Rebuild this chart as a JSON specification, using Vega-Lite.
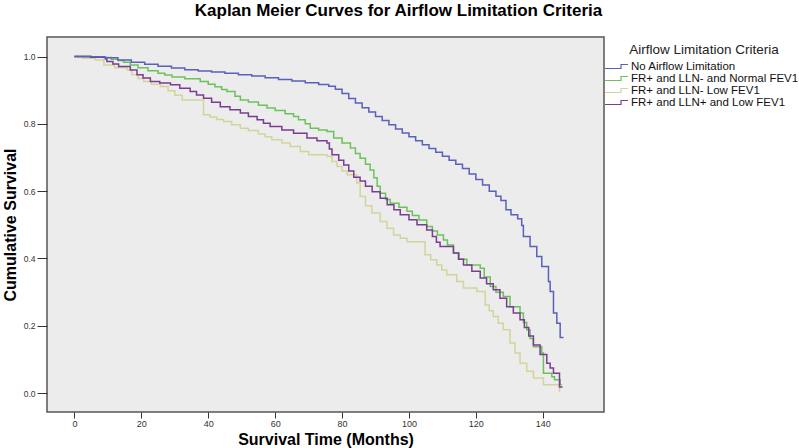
{
  "$schema": "https://vega.github.io/schema/vega-lite/v6.json",
  "width": 557,
  "height": 375,
  "autosize": {"type": "none"},
  "padding": {"left": 47, "top": 37, "right": 195, "bottom": 36},
  "background": "white",
  "title": {"text": "Kaplan Meier Curves for Airflow Limitation Criteria", "fontSize": 17, "fontWeight": "bold", "font": "Liberation Sans", "color": "black", "anchor": "middle", "frame": "group", "dx": 73, "offset": 17},
  "config": {
    "view": {"stroke": "#555555", "strokeWidth": 1.5, "fill": "#ececec"},
    "font": "Liberation Sans"
  },
  "datasets": {
    "km": [
      {"g": "FR+ and LLN- Low FEV1", "t": 0, "s": 1.0},
      {"g": "FR+ and LLN- Low FEV1", "t": 2.3, "s": 0.995},
      {"g": "FR+ and LLN- Low FEV1", "t": 6.3, "s": 0.99},
      {"g": "FR+ and LLN- Low FEV1", "t": 8.8, "s": 0.975},
      {"g": "FR+ and LLN- Low FEV1", "t": 12, "s": 0.967},
      {"g": "FR+ and LLN- Low FEV1", "t": 15.7, "s": 0.96},
      {"g": "FR+ and LLN- Low FEV1", "t": 17.2, "s": 0.946},
      {"g": "FR+ and LLN- Low FEV1", "t": 19, "s": 0.935},
      {"g": "FR+ and LLN- Low FEV1", "t": 20.7, "s": 0.926},
      {"g": "FR+ and LLN- Low FEV1", "t": 23, "s": 0.918},
      {"g": "FR+ and LLN- Low FEV1", "t": 25.7, "s": 0.911},
      {"g": "FR+ and LLN- Low FEV1", "t": 28, "s": 0.898},
      {"g": "FR+ and LLN- Low FEV1", "t": 30, "s": 0.885},
      {"g": "FR+ and LLN- Low FEV1", "t": 32.2, "s": 0.871},
      {"g": "FR+ and LLN- Low FEV1", "t": 38.6, "s": 0.827},
      {"g": "FR+ and LLN- Low FEV1", "t": 40.5, "s": 0.82},
      {"g": "FR+ and LLN- Low FEV1", "t": 42.5, "s": 0.813},
      {"g": "FR+ and LLN- Low FEV1", "t": 44.6, "s": 0.807},
      {"g": "FR+ and LLN- Low FEV1", "t": 47, "s": 0.797},
      {"g": "FR+ and LLN- Low FEV1", "t": 49.6, "s": 0.787},
      {"g": "FR+ and LLN- Low FEV1", "t": 52, "s": 0.78},
      {"g": "FR+ and LLN- Low FEV1", "t": 55, "s": 0.77},
      {"g": "FR+ and LLN- Low FEV1", "t": 57, "s": 0.762},
      {"g": "FR+ and LLN- Low FEV1", "t": 59, "s": 0.753},
      {"g": "FR+ and LLN- Low FEV1", "t": 62, "s": 0.743},
      {"g": "FR+ and LLN- Low FEV1", "t": 64.5, "s": 0.733},
      {"g": "FR+ and LLN- Low FEV1", "t": 67.5, "s": 0.718},
      {"g": "FR+ and LLN- Low FEV1", "t": 70, "s": 0.708},
      {"g": "FR+ and LLN- Low FEV1", "t": 75.5, "s": 0.703},
      {"g": "FR+ and LLN- Low FEV1", "t": 77, "s": 0.688},
      {"g": "FR+ and LLN- Low FEV1", "t": 78.5, "s": 0.673},
      {"g": "FR+ and LLN- Low FEV1", "t": 80, "s": 0.66},
      {"g": "FR+ and LLN- Low FEV1", "t": 81.5, "s": 0.649},
      {"g": "FR+ and LLN- Low FEV1", "t": 84.4, "s": 0.624},
      {"g": "FR+ and LLN- Low FEV1", "t": 85.4, "s": 0.584},
      {"g": "FR+ and LLN- Low FEV1", "t": 87, "s": 0.557},
      {"g": "FR+ and LLN- Low FEV1", "t": 88.9, "s": 0.535},
      {"g": "FR+ and LLN- Low FEV1", "t": 91.4, "s": 0.51},
      {"g": "FR+ and LLN- Low FEV1", "t": 93.4, "s": 0.49},
      {"g": "FR+ and LLN- Low FEV1", "t": 95.4, "s": 0.47},
      {"g": "FR+ and LLN- Low FEV1", "t": 97.4, "s": 0.46},
      {"g": "FR+ and LLN- Low FEV1", "t": 99.4, "s": 0.45},
      {"g": "FR+ and LLN- Low FEV1", "t": 104.8, "s": 0.411},
      {"g": "FR+ and LLN- Low FEV1", "t": 106.5, "s": 0.396},
      {"g": "FR+ and LLN- Low FEV1", "t": 108.3, "s": 0.381},
      {"g": "FR+ and LLN- Low FEV1", "t": 109.8, "s": 0.366},
      {"g": "FR+ and LLN- Low FEV1", "t": 111.3, "s": 0.352},
      {"g": "FR+ and LLN- Low FEV1", "t": 114.3, "s": 0.332},
      {"g": "FR+ and LLN- Low FEV1", "t": 116.3, "s": 0.312},
      {"g": "FR+ and LLN- Low FEV1", "t": 120.3, "s": 0.302},
      {"g": "FR+ and LLN- Low FEV1", "t": 122.8, "s": 0.262},
      {"g": "FR+ and LLN- Low FEV1", "t": 124, "s": 0.245},
      {"g": "FR+ and LLN- Low FEV1", "t": 125.2, "s": 0.228},
      {"g": "FR+ and LLN- Low FEV1", "t": 126.7, "s": 0.208},
      {"g": "FR+ and LLN- Low FEV1", "t": 128.2, "s": 0.188},
      {"g": "FR+ and LLN- Low FEV1", "t": 130.2, "s": 0.149},
      {"g": "FR+ and LLN- Low FEV1", "t": 131.7, "s": 0.119},
      {"g": "FR+ and LLN- Low FEV1", "t": 133.2, "s": 0.089},
      {"g": "FR+ and LLN- Low FEV1", "t": 135.2, "s": 0.065},
      {"g": "FR+ and LLN- Low FEV1", "t": 137.2, "s": 0.045},
      {"g": "FR+ and LLN- Low FEV1", "t": 140.2, "s": 0.025},
      {"g": "FR+ and LLN- Low FEV1", "t": 145, "s": 0.003},

      {"g": "FR+ and LLN- and Normal FEV1", "t": 0, "s": 1.0},
      {"g": "FR+ and LLN- and Normal FEV1", "t": 5, "s": 0.999},
      {"g": "FR+ and LLN- and Normal FEV1", "t": 8.8, "s": 0.997},
      {"g": "FR+ and LLN- and Normal FEV1", "t": 11, "s": 0.992},
      {"g": "FR+ and LLN- and Normal FEV1", "t": 13, "s": 0.988},
      {"g": "FR+ and LLN- and Normal FEV1", "t": 14.7, "s": 0.983},
      {"g": "FR+ and LLN- and Normal FEV1", "t": 16.7, "s": 0.975},
      {"g": "FR+ and LLN- and Normal FEV1", "t": 19, "s": 0.967},
      {"g": "FR+ and LLN- and Normal FEV1", "t": 22, "s": 0.958},
      {"g": "FR+ and LLN- and Normal FEV1", "t": 25, "s": 0.95},
      {"g": "FR+ and LLN- and Normal FEV1", "t": 27, "s": 0.945},
      {"g": "FR+ and LLN- and Normal FEV1", "t": 29.2, "s": 0.939},
      {"g": "FR+ and LLN- and Normal FEV1", "t": 33, "s": 0.934},
      {"g": "FR+ and LLN- and Normal FEV1", "t": 37.6, "s": 0.926},
      {"g": "FR+ and LLN- and Normal FEV1", "t": 40, "s": 0.918},
      {"g": "FR+ and LLN- and Normal FEV1", "t": 42, "s": 0.91},
      {"g": "FR+ and LLN- and Normal FEV1", "t": 44, "s": 0.902},
      {"g": "FR+ and LLN- and Normal FEV1", "t": 45.6, "s": 0.896},
      {"g": "FR+ and LLN- and Normal FEV1", "t": 48, "s": 0.882},
      {"g": "FR+ and LLN- and Normal FEV1", "t": 49.6, "s": 0.871},
      {"g": "FR+ and LLN- and Normal FEV1", "t": 52, "s": 0.865},
      {"g": "FR+ and LLN- and Normal FEV1", "t": 55, "s": 0.855},
      {"g": "FR+ and LLN- and Normal FEV1", "t": 57.6, "s": 0.847},
      {"g": "FR+ and LLN- and Normal FEV1", "t": 60, "s": 0.84},
      {"g": "FR+ and LLN- and Normal FEV1", "t": 63, "s": 0.83},
      {"g": "FR+ and LLN- and Normal FEV1", "t": 65.5, "s": 0.822},
      {"g": "FR+ and LLN- and Normal FEV1", "t": 67, "s": 0.812},
      {"g": "FR+ and LLN- and Normal FEV1", "t": 69, "s": 0.8},
      {"g": "FR+ and LLN- and Normal FEV1", "t": 70.5, "s": 0.787},
      {"g": "FR+ and LLN- and Normal FEV1", "t": 73, "s": 0.782},
      {"g": "FR+ and LLN- and Normal FEV1", "t": 75.5, "s": 0.777},
      {"g": "FR+ and LLN- and Normal FEV1", "t": 77.5, "s": 0.758},
      {"g": "FR+ and LLN- and Normal FEV1", "t": 80, "s": 0.743},
      {"g": "FR+ and LLN- and Normal FEV1", "t": 82.5, "s": 0.728},
      {"g": "FR+ and LLN- and Normal FEV1", "t": 84, "s": 0.712},
      {"g": "FR+ and LLN- and Normal FEV1", "t": 85.4, "s": 0.698},
      {"g": "FR+ and LLN- and Normal FEV1", "t": 87, "s": 0.68},
      {"g": "FR+ and LLN- and Normal FEV1", "t": 88.4, "s": 0.663},
      {"g": "FR+ and LLN- and Normal FEV1", "t": 89.5, "s": 0.64},
      {"g": "FR+ and LLN- and Normal FEV1", "t": 90.5, "s": 0.615},
      {"g": "FR+ and LLN- and Normal FEV1", "t": 91.4, "s": 0.594},
      {"g": "FR+ and LLN- and Normal FEV1", "t": 93, "s": 0.575},
      {"g": "FR+ and LLN- and Normal FEV1", "t": 94.4, "s": 0.564},
      {"g": "FR+ and LLN- and Normal FEV1", "t": 97, "s": 0.552},
      {"g": "FR+ and LLN- and Normal FEV1", "t": 99.4, "s": 0.54},
      {"g": "FR+ and LLN- and Normal FEV1", "t": 101, "s": 0.528},
      {"g": "FR+ and LLN- and Normal FEV1", "t": 103, "s": 0.514},
      {"g": "FR+ and LLN- and Normal FEV1", "t": 105.3, "s": 0.495},
      {"g": "FR+ and LLN- and Normal FEV1", "t": 107, "s": 0.482},
      {"g": "FR+ and LLN- and Normal FEV1", "t": 108.5, "s": 0.47},
      {"g": "FR+ and LLN- and Normal FEV1", "t": 110.3, "s": 0.455},
      {"g": "FR+ and LLN- and Normal FEV1", "t": 111.5, "s": 0.44},
      {"g": "FR+ and LLN- and Normal FEV1", "t": 113.3, "s": 0.416},
      {"g": "FR+ and LLN- and Normal FEV1", "t": 115, "s": 0.398},
      {"g": "FR+ and LLN- and Normal FEV1", "t": 117.3, "s": 0.381},
      {"g": "FR+ and LLN- and Normal FEV1", "t": 121.3, "s": 0.371},
      {"g": "FR+ and LLN- and Normal FEV1", "t": 122.5, "s": 0.345},
      {"g": "FR+ and LLN- and Normal FEV1", "t": 124.3, "s": 0.317},
      {"g": "FR+ and LLN- and Normal FEV1", "t": 126, "s": 0.3},
      {"g": "FR+ and LLN- and Normal FEV1", "t": 128.2, "s": 0.287},
      {"g": "FR+ and LLN- and Normal FEV1", "t": 130.2, "s": 0.257},
      {"g": "FR+ and LLN- and Normal FEV1", "t": 133.2, "s": 0.238},
      {"g": "FR+ and LLN- and Normal FEV1", "t": 134.2, "s": 0.21},
      {"g": "FR+ and LLN- and Normal FEV1", "t": 135.2, "s": 0.188},
      {"g": "FR+ and LLN- and Normal FEV1", "t": 136.2, "s": 0.162},
      {"g": "FR+ and LLN- and Normal FEV1", "t": 137.2, "s": 0.138},
      {"g": "FR+ and LLN- and Normal FEV1", "t": 139.7, "s": 0.119},
      {"g": "FR+ and LLN- and Normal FEV1", "t": 140.2, "s": 0.059},
      {"g": "FR+ and LLN- and Normal FEV1", "t": 142.7, "s": 0.049},
      {"g": "FR+ and LLN- and Normal FEV1", "t": 143.5, "s": 0.04},
      {"g": "FR+ and LLN- and Normal FEV1", "t": 145.2, "s": 0.025},
      {"g": "FR+ and LLN- and Normal FEV1", "t": 145.7, "s": 0.025},

      {"g": "FR+ and LLN+ and Low FEV1", "t": 0, "s": 1.0},
      {"g": "FR+ and LLN+ and Low FEV1", "t": 4.8, "s": 0.998},
      {"g": "FR+ and LLN+ and Low FEV1", "t": 9.3, "s": 0.993},
      {"g": "FR+ and LLN+ and Low FEV1", "t": 9.7, "s": 0.985},
      {"g": "FR+ and LLN+ and Low FEV1", "t": 11.5, "s": 0.978},
      {"g": "FR+ and LLN+ and Low FEV1", "t": 13.2, "s": 0.97},
      {"g": "FR+ and LLN+ and Low FEV1", "t": 16.7, "s": 0.96},
      {"g": "FR+ and LLN+ and Low FEV1", "t": 18.7, "s": 0.946},
      {"g": "FR+ and LLN+ and Low FEV1", "t": 20.5, "s": 0.936},
      {"g": "FR+ and LLN+ and Low FEV1", "t": 22.7, "s": 0.926},
      {"g": "FR+ and LLN+ and Low FEV1", "t": 25.5, "s": 0.921},
      {"g": "FR+ and LLN+ and Low FEV1", "t": 28.7, "s": 0.916},
      {"g": "FR+ and LLN+ and Low FEV1", "t": 31.5, "s": 0.906},
      {"g": "FR+ and LLN+ and Low FEV1", "t": 34.6, "s": 0.896},
      {"g": "FR+ and LLN+ and Low FEV1", "t": 36.5, "s": 0.886},
      {"g": "FR+ and LLN+ and Low FEV1", "t": 38.6, "s": 0.876},
      {"g": "FR+ and LLN+ and Low FEV1", "t": 41, "s": 0.864},
      {"g": "FR+ and LLN+ and Low FEV1", "t": 43.6, "s": 0.851},
      {"g": "FR+ and LLN+ and Low FEV1", "t": 46.5, "s": 0.842},
      {"g": "FR+ and LLN+ and Low FEV1", "t": 49.6, "s": 0.832},
      {"g": "FR+ and LLN+ and Low FEV1", "t": 52, "s": 0.822},
      {"g": "FR+ and LLN+ and Low FEV1", "t": 54.6, "s": 0.812},
      {"g": "FR+ and LLN+ and Low FEV1", "t": 56.5, "s": 0.802},
      {"g": "FR+ and LLN+ and Low FEV1", "t": 58.5, "s": 0.792},
      {"g": "FR+ and LLN+ and Low FEV1", "t": 62, "s": 0.782},
      {"g": "FR+ and LLN+ and Low FEV1", "t": 65.5, "s": 0.772},
      {"g": "FR+ and LLN+ and Low FEV1", "t": 69.5, "s": 0.758},
      {"g": "FR+ and LLN+ and Low FEV1", "t": 72.5, "s": 0.75},
      {"g": "FR+ and LLN+ and Low FEV1", "t": 75.5, "s": 0.743},
      {"g": "FR+ and LLN+ and Low FEV1", "t": 76.2, "s": 0.725},
      {"g": "FR+ and LLN+ and Low FEV1", "t": 77, "s": 0.708},
      {"g": "FR+ and LLN+ and Low FEV1", "t": 79, "s": 0.692},
      {"g": "FR+ and LLN+ and Low FEV1", "t": 80.5, "s": 0.678},
      {"g": "FR+ and LLN+ and Low FEV1", "t": 82, "s": 0.66},
      {"g": "FR+ and LLN+ and Low FEV1", "t": 83.5, "s": 0.641},
      {"g": "FR+ and LLN+ and Low FEV1", "t": 85.4, "s": 0.63},
      {"g": "FR+ and LLN+ and Low FEV1", "t": 87, "s": 0.615},
      {"g": "FR+ and LLN+ and Low FEV1", "t": 89, "s": 0.598},
      {"g": "FR+ and LLN+ and Low FEV1", "t": 91.4, "s": 0.579},
      {"g": "FR+ and LLN+ and Low FEV1", "t": 93.5, "s": 0.56},
      {"g": "FR+ and LLN+ and Low FEV1", "t": 95.5, "s": 0.545},
      {"g": "FR+ and LLN+ and Low FEV1", "t": 97.4, "s": 0.53},
      {"g": "FR+ and LLN+ and Low FEV1", "t": 100, "s": 0.515},
      {"g": "FR+ and LLN+ and Low FEV1", "t": 102.4, "s": 0.5},
      {"g": "FR+ and LLN+ and Low FEV1", "t": 105.3, "s": 0.485},
      {"g": "FR+ and LLN+ and Low FEV1", "t": 107, "s": 0.465},
      {"g": "FR+ and LLN+ and Low FEV1", "t": 108.2, "s": 0.448},
      {"g": "FR+ and LLN+ and Low FEV1", "t": 109.3, "s": 0.436},
      {"g": "FR+ and LLN+ and Low FEV1", "t": 113.3, "s": 0.416},
      {"g": "FR+ and LLN+ and Low FEV1", "t": 114.8, "s": 0.398},
      {"g": "FR+ and LLN+ and Low FEV1", "t": 116.3, "s": 0.381},
      {"g": "FR+ and LLN+ and Low FEV1", "t": 118.8, "s": 0.362},
      {"g": "FR+ and LLN+ and Low FEV1", "t": 121.3, "s": 0.342},
      {"g": "FR+ and LLN+ and Low FEV1", "t": 123.2, "s": 0.325},
      {"g": "FR+ and LLN+ and Low FEV1", "t": 125.2, "s": 0.307},
      {"g": "FR+ and LLN+ and Low FEV1", "t": 127.2, "s": 0.282},
      {"g": "FR+ and LLN+ and Low FEV1", "t": 129.2, "s": 0.257},
      {"g": "FR+ and LLN+ and Low FEV1", "t": 131.2, "s": 0.238},
      {"g": "FR+ and LLN+ and Low FEV1", "t": 133.2, "s": 0.218},
      {"g": "FR+ and LLN+ and Low FEV1", "t": 134.5, "s": 0.195},
      {"g": "FR+ and LLN+ and Low FEV1", "t": 135.8, "s": 0.17},
      {"g": "FR+ and LLN+ and Low FEV1", "t": 137.2, "s": 0.143},
      {"g": "FR+ and LLN+ and Low FEV1", "t": 139.2, "s": 0.115},
      {"g": "FR+ and LLN+ and Low FEV1", "t": 141.2, "s": 0.089},
      {"g": "FR+ and LLN+ and Low FEV1", "t": 142.2, "s": 0.075},
      {"g": "FR+ and LLN+ and Low FEV1", "t": 143.2, "s": 0.059},
      {"g": "FR+ and LLN+ and Low FEV1", "t": 145, "s": 0.018},
      {"g": "FR+ and LLN+ and Low FEV1", "t": 145.9, "s": 0.018},

      {"g": "No Airflow Limitation", "t": 0, "s": 1.0},
      {"g": "No Airflow Limitation", "t": 5, "s": 0.999},
      {"g": "No Airflow Limitation", "t": 9, "s": 0.996},
      {"g": "No Airflow Limitation", "t": 13, "s": 0.99},
      {"g": "No Airflow Limitation", "t": 17, "s": 0.983},
      {"g": "No Airflow Limitation", "t": 21, "s": 0.977},
      {"g": "No Airflow Limitation", "t": 25, "s": 0.971},
      {"g": "No Airflow Limitation", "t": 29, "s": 0.966},
      {"g": "No Airflow Limitation", "t": 33, "s": 0.961},
      {"g": "No Airflow Limitation", "t": 37, "s": 0.957},
      {"g": "No Airflow Limitation", "t": 41, "s": 0.954},
      {"g": "No Airflow Limitation", "t": 45, "s": 0.95},
      {"g": "No Airflow Limitation", "t": 49, "s": 0.946},
      {"g": "No Airflow Limitation", "t": 53, "s": 0.942},
      {"g": "No Airflow Limitation", "t": 57, "s": 0.937},
      {"g": "No Airflow Limitation", "t": 61, "s": 0.932},
      {"g": "No Airflow Limitation", "t": 65, "s": 0.927},
      {"g": "No Airflow Limitation", "t": 69, "s": 0.922},
      {"g": "No Airflow Limitation", "t": 73, "s": 0.917},
      {"g": "No Airflow Limitation", "t": 76, "s": 0.912},
      {"g": "No Airflow Limitation", "t": 78, "s": 0.903},
      {"g": "No Airflow Limitation", "t": 80, "s": 0.89},
      {"g": "No Airflow Limitation", "t": 82, "s": 0.875},
      {"g": "No Airflow Limitation", "t": 84, "s": 0.862},
      {"g": "No Airflow Limitation", "t": 86, "s": 0.848},
      {"g": "No Airflow Limitation", "t": 88, "s": 0.835},
      {"g": "No Airflow Limitation", "t": 90, "s": 0.822},
      {"g": "No Airflow Limitation", "t": 92, "s": 0.81},
      {"g": "No Airflow Limitation", "t": 94, "s": 0.797},
      {"g": "No Airflow Limitation", "t": 96, "s": 0.785},
      {"g": "No Airflow Limitation", "t": 98, "s": 0.773},
      {"g": "No Airflow Limitation", "t": 100, "s": 0.762},
      {"g": "No Airflow Limitation", "t": 102, "s": 0.75},
      {"g": "No Airflow Limitation", "t": 104, "s": 0.738},
      {"g": "No Airflow Limitation", "t": 106, "s": 0.727},
      {"g": "No Airflow Limitation", "t": 108, "s": 0.716},
      {"g": "No Airflow Limitation", "t": 110, "s": 0.704},
      {"g": "No Airflow Limitation", "t": 112, "s": 0.692},
      {"g": "No Airflow Limitation", "t": 114, "s": 0.68},
      {"g": "No Airflow Limitation", "t": 116, "s": 0.667},
      {"g": "No Airflow Limitation", "t": 118, "s": 0.651},
      {"g": "No Airflow Limitation", "t": 120, "s": 0.635},
      {"g": "No Airflow Limitation", "t": 122, "s": 0.618},
      {"g": "No Airflow Limitation", "t": 124, "s": 0.6},
      {"g": "No Airflow Limitation", "t": 126, "s": 0.585},
      {"g": "No Airflow Limitation", "t": 127.5, "s": 0.572},
      {"g": "No Airflow Limitation", "t": 129, "s": 0.545},
      {"g": "No Airflow Limitation", "t": 130.5, "s": 0.53},
      {"g": "No Airflow Limitation", "t": 132.5, "s": 0.518},
      {"g": "No Airflow Limitation", "t": 133.7, "s": 0.498},
      {"g": "No Airflow Limitation", "t": 134.2, "s": 0.465},
      {"g": "No Airflow Limitation", "t": 136.2, "s": 0.436},
      {"g": "No Airflow Limitation", "t": 138.2, "s": 0.406},
      {"g": "No Airflow Limitation", "t": 139.7, "s": 0.376},
      {"g": "No Airflow Limitation", "t": 141.7, "s": 0.332},
      {"g": "No Airflow Limitation", "t": 142.2, "s": 0.302},
      {"g": "No Airflow Limitation", "t": 143.2, "s": 0.238},
      {"g": "No Airflow Limitation", "t": 144.2, "s": 0.208},
      {"g": "No Airflow Limitation", "t": 145.2, "s": 0.165},
      {"g": "No Airflow Limitation", "t": 146.2, "s": 0.165}
    ]
  },
  "data": {"name": "km"},
  "mark": {"type": "line", "interpolate": "step-after", "strokeWidth": 1.5, "clip": true},
  "encoding": {
    "x": {
      "field": "t", "type": "quantitative",
      "scale": {"domain": [-8.2, 158.3], "nice": false, "zero": false},
      "axis": {"values": [0, 20, 40, 60, 80, 100, 120, 140], "title": "Survival Time (Months)", "grid": false, "domain": false, "tickColor": "#333333", "tickSize": 6, "labelFontSize": 9, "labelColor": "#333333", "labelPadding": 1, "titleFontSize": 16, "titleFontWeight": "bold", "titleColor": "black", "titlePadding": 3}
    },
    "y": {
      "field": "s", "type": "quantitative",
      "scale": {"domain": [-0.056, 1.058], "nice": false, "zero": false},
      "axis": {"values": [0, 0.2, 0.4, 0.6, 0.8, 1.0], "format": ".1f", "title": "Cumulative Survival", "grid": false, "domain": false, "tickColor": "#333333", "tickSize": 10, "labelFontSize": 8.5, "labelColor": "#333333", "labelPadding": 2, "titleFontSize": 16, "titleFontWeight": "bold", "titleColor": "black", "titlePadding": 5}
    },
    "color": {
      "field": "g", "type": "nominal",
      "scale": {
        "domain": ["No Airflow Limitation", "FR+ and LLN- and Normal FEV1", "FR+ and LLN- Low FEV1", "FR+ and LLN+ and Low FEV1"],
        "range": ["#5a60bd", "#6cc25a", "#d3d49b", "#7a3d92"]
      },
      "legend": {
        "orient": "none", "legendX": 563, "legendY": 6,
        "title": "Airflow Limitation Criteria", "titleFontSize": 13.5, "titleFontWeight": "normal", "titleColor": "#222222", "titleAnchor": "middle", "titlePadding": 4,
        "labelFontSize": 11.5, "labelColor": "#111111", "labelLimit": 0, "labelOffset": 9,
        "symbolType": "M-2.2,0.4H1V-0.4H2.4", "symbolSize": 100, "symbolStrokeWidth": 1.2, "symbolFillColor": "transparent",
        "rowPadding": -3, "padding": 0
      }
    }
  }
}
